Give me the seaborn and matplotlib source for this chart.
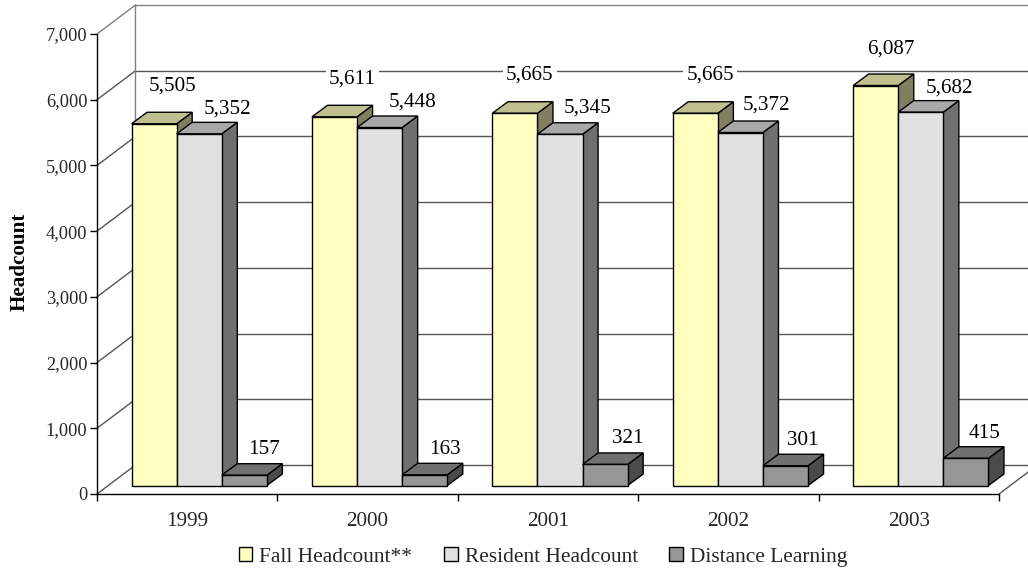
import numpy as np
import pandas as pd
import seaborn as sns
import matplotlib.pyplot as plt
from matplotlib.patches import Polygon
from matplotlib.transforms import Affine2D

# ---------------------------------------------------------
# Data
# ---------------------------------------------------------
years = ['1999', '2000', '2001', '2002', '2003']
series_names = ['Fall Headcount**', 'Resident Headcount', 'Distance Learning']
fall_headcount = [5505, 5611, 5665, 5665, 6087]
resident_headcount = [5352, 5448, 5345, 5372, 5682]
distance_learning = [157, 163, 321, 301, 415]

# hand placed label nudges in the original (pixels right / up from bar top)
label_dx = [[18, 18, 15, 15, 15], [28, 33, 28, 26, 29], [20, 20, 23, 17, 19]]
label_dy = [[38, 38, 38, 38, 36], [25, 25, 26, 27, 24], [26, 25, 26, 25, 25]]

# ---------------------------------------------------------
# Colors & Style
# ---------------------------------------------------------
sns.set_theme(style="ticks")
plt.rcParams['font.family'] = ['Liberation Serif', 'DejaVu Serif']

FRONT = ['#FFFFC0', '#E0E0E0', '#969696']
TOP = ['#BFBF90', '#A8A8A8', '#707070']
SIDE = ['#808060', '#707070', '#4B4B4B']
GRID = '#555555'
WALL = '#808080'
FONT = 15.2

# 3D look, in data units (x = category, y = headcount)
WALL_X, WALL_Y = 0.2134, 441
SHIFT_X, SHIFT_Y = 0.0665, 129
DEPTH_X, DEPTH_Y = 0.086, 175

df = pd.DataFrame({
    'Year': years * 3,
    'Series': np.repeat(series_names, len(years)),
    'Headcount': fall_headcount + resident_headcount + distance_learning,
})

fig = plt.figure(figsize=(10.28, 5.74), dpi=100)
ax = fig.add_axes([97 / 1028, 80 / 574, 902 / 1028, 460 / 574])

sns.barplot(data=df, x='Year', y='Headcount', hue='Series', order=years,
            hue_order=series_names, palette=FRONT, saturation=1, width=0.75,
            edgecolor='black', linewidth=1, zorder=3, ax=ax)

ax.set_xlim(-0.5, 4.5)
ax.set_ylim(0, 7000)
shifted = Affine2D().translate(SHIFT_X, SHIFT_Y) + ax.transData

# ---------------------------------------------------------
# Back wall and floor
# ---------------------------------------------------------
x0, x1 = -0.5, 4.5
for level in range(0, 8000, 1000):
    c = WALL if level == 7000 else GRID
    ax.plot([x0, x0 + WALL_X], [level, level + WALL_Y], color=c, lw=1,
            clip_on=False, zorder=1)
    ax.plot([x0 + WALL_X, x1 + WALL_X], [level + WALL_Y, level + WALL_Y],
            color=c, lw=1, clip_on=False, zorder=1)
ax.plot([x0 + WALL_X, x0 + WALL_X], [WALL_Y, 7000 + WALL_Y], color=WALL, lw=1,
        clip_on=False, zorder=1)
ax.plot([x1, x1 + WALL_X], [0, WALL_Y], color=GRID, lw=1, clip_on=False, zorder=1)

# ---------------------------------------------------------
# Bars: shift the fronts, then add top and side faces
# ---------------------------------------------------------
for s, container in enumerate(ax.containers):
    for i, bar in enumerate(container):
        left, w, h = bar.get_x(), bar.get_width(), bar.get_height()
        right = left + w
        top_pts = [(left, h), (right, h), (right + DEPTH_X, h + DEPTH_Y),
                   (left + DEPTH_X, h + DEPTH_Y)]
        side_pts = [(right, 0), (right + DEPTH_X, DEPTH_Y),
                    (right + DEPTH_X, h + DEPTH_Y), (right, h)]
        zs = 3 + s + 0.1 * i
        ax.add_patch(Polygon(side_pts, closed=True, facecolor=SIDE[s], edgecolor='black',
                             lw=1, transform=shifted, clip_on=False, zorder=zs))
        ax.add_patch(Polygon(top_pts, closed=True, facecolor=TOP[s], edgecolor='black',
                             lw=1, transform=shifted, clip_on=False, zorder=zs + 0.01))
        bar.set_transform(shifted)
        bar.set_clip_on(False)
        bar.set_zorder(zs + 0.02)

        # value label, white box breaks the grid lines but stays behind the bars
        px = Affine2D().translate(label_dx[s][i], label_dy[s][i])
        ax.text(left + w / 2, h, f'{int(h):,}', ha='center', va='center',
                fontsize=FONT, color='black', zorder=2, clip_on=False,
                transform=shifted + px,
                bbox=dict(facecolor='white', edgecolor='none', pad=2.5))

# ---------------------------------------------------------
# Axes
# ---------------------------------------------------------
sns.despine(ax=ax)
for spine in ax.spines.values():
    spine.set_linewidth(1)
    spine.set_color('black')
    spine.set_zorder(10)

ax.set_yticks(range(0, 8000, 1000))
ax.set_yticklabels([f'{v:,}' for v in range(0, 8000, 1000)], fontsize=13.2)
ax.tick_params(axis='y', length=5, width=1, pad=2, color='black')

ax.set_xticks(np.arange(-0.5, 5, 1))
ax.set_xticklabels([])
ax.set_xticks(np.arange(5), labels=years, minor=True)
ax.tick_params(axis='x', which='major', length=5, width=1, color='black')
ax.tick_params(axis='x', which='minor', length=0, pad=13, labelsize=FONT)

ax.set_xlabel('')
ax.set_ylabel('')
fig.text(20 / 1028, 1 - 262 / 574, 'Headcount', rotation=90, ha='center', va='center',
         fontsize=FONT, fontweight='bold', color='black')

# --- legend ---
handles, labels = ax.get_legend_handles_labels()
ax.legend(handles, labels, ncol=3, frameon=False, fontsize=15.4,
          loc='center', bbox_to_anchor=(543 / 1028, 1 - 557 / 574),
          bbox_transform=fig.transFigure, handlelength=0.65, handleheight=0.65,
          handletextpad=0.33, columnspacing=1.46, borderpad=0)

fig.savefig('out.png', dpi=100)
